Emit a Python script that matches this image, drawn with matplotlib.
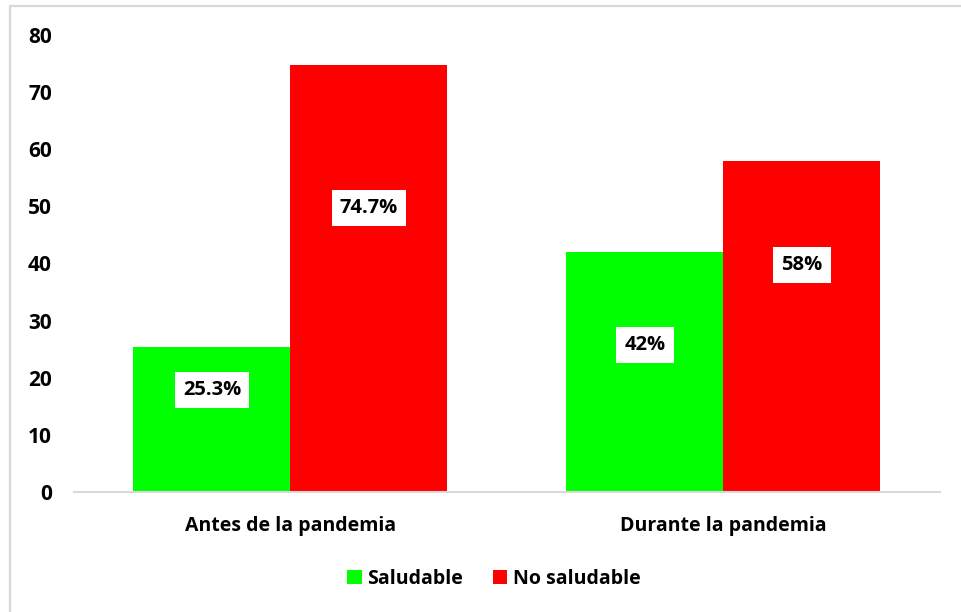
import matplotlib

matplotlib.use("Agg")

import matplotlib.pyplot as plt
import numpy as np
from matplotlib.patches import Patch, Rectangle

periods = ["Antes de la pandemia", "Durante la pandemia"]
saludable = [25.3, 42]
no_saludable = [74.7, 58]
series_names = ["Saludable", "No saludable"]
y_ticks = [0, 10, 20, 30, 40, 50, 60, 70, 80]

GREEN = "#00ff00"
RED = "#ff0000"
GRAY = "#d9d9d9"
BAR_W = 0.3626
FS = 14
# data labels sit a little below the middle of each bar
LABEL_Y = [[17.9, 25.8], [49.7, 39.8]]

plt.rcParams["font.family"] = ["Open Sans", "DejaVu Sans"]
plt.rcParams["font.weight"] = "bold"

fig = plt.figure(figsize=(9.61, 6.12), dpi=100)
ax = fig.add_axes([0.077, 0.196, 0.901, 0.747])

x = np.arange(len(periods))
for i, (vals, color) in enumerate([(saludable, GREEN), (no_saludable, RED)]):
    offset = (i - 0.5) * BAR_W
    ax.bar(x + offset, vals, width=BAR_W, color=color, linewidth=0)
    for xi, v, ly in zip(x, vals, LABEL_Y[i]):
        ax.text(
            xi + offset, ly, f"{v:g}%",
            ha="center", va="center", fontsize=14.5, fontweight="bold",
            bbox=dict(boxstyle="square,pad=0.4", facecolor="white", edgecolor="none"),
        )

ax.set_xlim(-0.5, 1.5)
ax.set_ylim(0, 80)
ax.set_yticks(y_ticks)
ax.set_xticks(x)
ax.set_xticklabels(periods, fontweight="bold")
ax.set_yticklabels([str(t) for t in y_ticks], fontweight="bold")
ax.tick_params(axis="x", length=0, labelsize=FS, pad=17)
ax.tick_params(axis="y", length=0, labelsize=15, pad=16)
for side in ["top", "right", "left"]:
    ax.spines[side].set_visible(False)
ax.spines["bottom"].set_color(GRAY)
ax.spines["bottom"].set_linewidth(1.5)

handles = [Patch(facecolor=GREEN, edgecolor="none"), Patch(facecolor=RED, edgecolor="none")]
fig.legend(
    handles, series_names, loc="center", bbox_to_anchor=(0.514, 0.054), ncol=2,
    frameon=False, prop={"size": FS, "weight": "bold"},
    handlelength=0.75, handleheight=0.75, handletextpad=0.3, columnspacing=1.5,
)

# chart outline (only the top and left edges fall inside the image)
fig.patches.append(Rectangle(
    (10 / 961, -0.1), 1.2, 1.1 - 6 / 612, transform=fig.transFigure,
    fill=False, edgecolor=GRAY, linewidth=1.6,
))

fig.savefig("out.png", dpi=100)
